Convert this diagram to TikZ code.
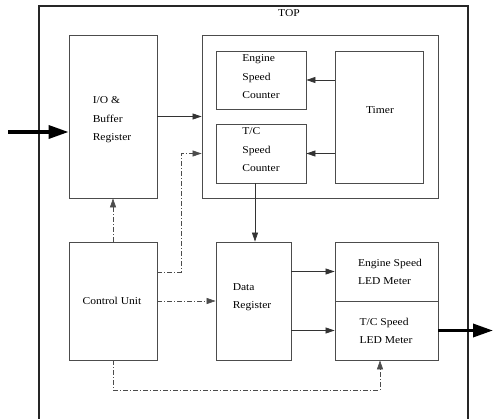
\documentclass[tikz,border=0pt]{standalone}
\usepackage{fontspec}
\setmainfont{Liberation Serif}[FakeStretch=1.1]
\usetikzlibrary{arrows.meta}
\tikzset{
  box/.style={draw=black!70, line width=0.8pt, rectangle, inner sep=0pt},
  txt/.style={align=left, inner sep=0pt, font=\fontsize{10.5}{18.5}\selectfont},
  arr/.style={draw=black!80, line width=0.7pt, -{Triangle[length=9pt,width=6pt]}},
  dd/.style={draw=black!70, line width=0.6pt, dash pattern=on 5pt off 2pt on 1pt off 2pt, -{Triangle[length=9pt,width=6pt]}},
  bigarr/.style={draw=black, line width=3.4pt, -{Triangle[length=20pt,width=13pt]}},
}
\begin{document}
\begin{tikzpicture}[x=1pt,y=-1pt]
\useasboundingbox (0,0) rectangle (493,418);
\clip (0,0) rectangle (493,418);
\draw[black!85, line width=1.3pt] (39,6) rectangle (468,450);
\node[txt] (toplbl) at (289,13) {TOP};

\node[box, minimum width=88pt, minimum height=163pt] (io) at (113,116.5) {};
\node[txt] (iot) at (112,120) {I/O \&\\Buffer\\Register};

\node[box, minimum width=236pt, minimum height=163pt] (big) at (320,116.5) {};
\node[box, minimum width=90pt, minimum height=58pt] (esc) at (261,80) {};
\node[txt] (esct) at (261,77) {Engine\\Speed\\Counter};
\node[box, minimum width=90pt, minimum height=59pt] (tsc) at (261,153.5) {};
\node[txt] (tsct) at (261,150) {T/C\\Speed\\Counter};
\node[box, minimum width=88pt, minimum height=132pt] (timer) at (379,117) {};
\node[txt] (timert) at (380,110) {Timer};

\node[box, minimum width=88pt, minimum height=118pt] (cu) at (113,301) {};
\node[txt] (cut) at (112,301) {Control Unit};
\node[box, minimum width=75pt, minimum height=118pt] (dr) at (253.5,301) {};
\node[txt] (drt) at (252,297) {Data\\Register};
\node[box, minimum width=103pt, minimum height=59pt] (led1) at (386.5,271.5) {};
\node[txt] (led1t) at (390,272) {Engine Speed\\LED Meter};
\node[box, minimum width=103pt, minimum height=59pt] (led2) at (386.5,330.5) {};
\node[txt] (led2t) at (386,331) {T/C Speed\\LED Meter};

\draw[arr] (io.east) -- (big.west);
\draw[arr] (timer.west |- esc) -- (esc.east);
\draw[arr] (timer.west |- tsc) -- (tsc.east);
\draw[arr] ([xshift=-6pt]tsc.south) -- ([xshift=-6pt]tsc.south |- dr.north);
\draw[arr] (dr.east |- led1) -- (led1.west);
\draw[arr] (dr.east |- led2) -- (led2.west);

\coordinate (c1) at (181,272);
\coordinate (c2) at (380,390);
\draw[dd] (cu.north) -- (io.south);
\draw[dd] (cu.east) -- (dr.west);
\draw[dd] (cu.east |- c1) -| (c1 |- tsc) -- (big.west |- tsc);
\draw[dd] (cu.south) |- (c2) -- (c2 |- led2.south);

\coordinate (in) at (8,132);
\coordinate (out) at (493,330.5);
\draw[bigarr] (in) -- (io.west |- in);
\draw[bigarr] (led2.east) -- (out);
\end{tikzpicture}
\end{document}
